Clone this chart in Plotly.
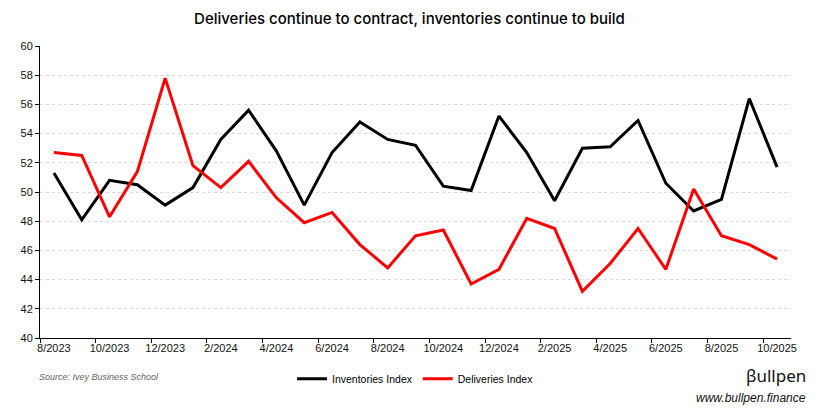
import plotly.graph_objects as go

months = ["8/2023", "9/2023", "10/2023", "11/2023", "12/2023", "1/2024", "2/2024", "3/2024",
          "4/2024", "5/2024", "6/2024", "7/2024", "8/2024", "9/2024", "10/2024", "11/2024",
          "12/2024", "1/2025", "2/2025", "3/2025", "4/2025", "5/2025", "6/2025", "7/2025",
          "8/2025", "9/2025", "10/2025"]
inventories = [51.3, 48.1, 50.8, 50.5, 49.1, 50.3, 53.6, 55.6, 52.8, 49.1, 52.7, 54.8, 53.6,
               53.2, 50.4, 50.1, 55.2, 52.7, 49.4, 53.0, 53.1, 54.9, 50.6, 48.7, 49.5, 56.4, 51.7]
deliveries = [52.7, 52.5, 48.3, 51.4, 57.8, 51.8, 50.3, 52.1, 49.6, 47.9, 48.6, 46.4, 44.8,
              47.0, 47.4, 43.7, 44.7, 48.2, 47.5, 43.2, 45.1, 47.5, 44.7, 50.2, 47.0, 46.4, 45.4]
title = "Deliveries continue to contract, inventories continue to build"
source = "Source: Ivey Business School"

idx = list(range(len(months)))
tick_idx = idx[::2]
tick_text = [months[i] for i in tick_idx]
minor_vals = [i - 0.5 for i in tick_idx]

fig = go.Figure()
fig.add_trace(go.Scatter(x=idx, y=inventories, mode="lines", name="Inventories Index",
                         line=dict(color="#000000", width=3)))
fig.add_trace(go.Scatter(x=idx, y=deliveries, mode="lines", name="Deliveries Index",
                         line=dict(color="#ff0000", width=3)))

fig.update_layout(
    width=819, height=418,
    margin=dict(l=40, r=28, t=46, b=80),
    paper_bgcolor="white", plot_bgcolor="white",
    font=dict(family="Liberation Sans, Arial", size=11, color="#222222"),
    title=dict(text=title, x=0.5, xanchor="center", y=0.955, yanchor="middle",
               font=dict(family="Inter", size=15, color="#000000", weight=500)),
    showlegend=True,
    legend=dict(orientation="h", x=0.5, xanchor="center", y=-0.09, yanchor="top",
                font=dict(family="Liberation Sans Narrow, Liberation Sans", size=10.5, color="#000000"),
                itemwidth=30, bgcolor="rgba(0,0,0,0)"),
)
fig.update_xaxes(range=[-0.5, len(months) - 0.5], tickvals=tick_idx, ticktext=tick_text,
                 ticks="", showgrid=False, zeroline=False,
                 showline=True, linecolor="#000000", linewidth=1,
                 tickfont=dict(size=11, color="#111111"),
                 minor=dict(tickvals=minor_vals, ticks="outside", ticklen=4,
                            tickcolor="#000000", showgrid=False))
fig.update_yaxes(range=[40, 60], dtick=2, tick0=40, ticks="outside", ticklen=4,
                 tickcolor="#000000", showline=True, linecolor="#000000", linewidth=1,
                 showgrid=True, gridcolor="#d9d9d9", griddash="dot", gridwidth=1,
                 zeroline=False, tickfont=dict(size=11, color="#111111"))

fig.add_annotation(text="<i>" + source + "</i>", xref="paper", yref="paper", x=-0.004, y=-0.135,
                   xanchor="left", yanchor="middle", showarrow=False,
                   font=dict(family="Liberation Sans Narrow, Liberation Sans", size=9, color="#666666"))
fig.add_annotation(text="βullpen", xref="paper", yref="paper", x=1.022, y=-0.13,
                   xanchor="right", yanchor="middle", showarrow=False,
                   font=dict(family="Noto Sans", size=17, color="#111111"))
fig.add_annotation(text="<i>www.bullpen.finance</i>", xref="paper", yref="paper", x=1.022, y=-0.205,
                   xanchor="right", yanchor="middle", showarrow=False,
                   font=dict(family="Liberation Sans", size=12, color="#111111"))

fig.write_html("out.html", config={"displayModeBar": False},
               post_script="document.body.style.margin='0';document.body.style.padding='0';")
